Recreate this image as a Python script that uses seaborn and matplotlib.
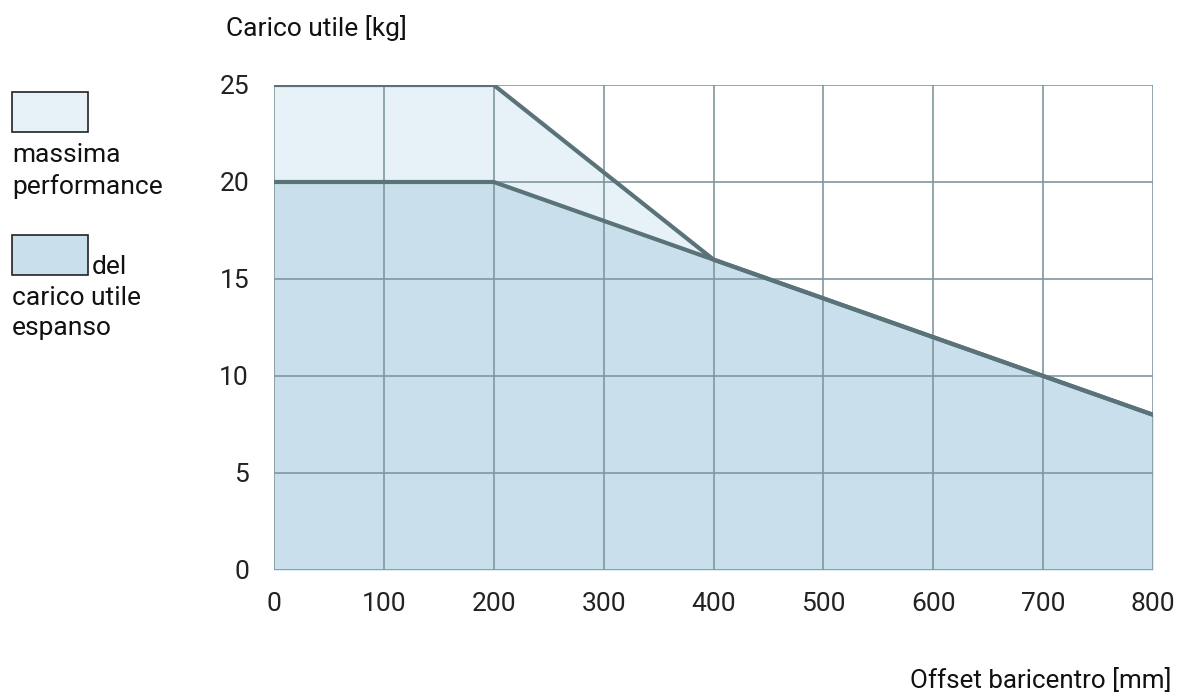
import pandas as pd
import matplotlib.pyplot as plt
import matplotlib.patches as mpatches
import seaborn as sns

offset_mm = [0, 200, 400, 700, 800]
carico_espanso = [20, 20, 16, 10, 8]
offset_max = [0, 200, 400, 800]
carico_max = [25, 25, 16, 8]

x_ticks = [0, 100, 200, 300, 400, 500, 600, 700, 800]
y_ticks = [0, 5, 10, 15, 20, 25]

light = '#E6F1F8'
mid = '#C9E0EC'
line_col = '#5A7379'
grid_col = '#7F979D'
fs = 19

sns.set_theme(style='white')
plt.rcParams['font.family'] = ['Roboto', 'DejaVu Sans']

fig = plt.figure(figsize=(11.78, 6.95), dpi=100)
ax = fig.add_axes([0.2326, 0.1799, 0.7462, 0.6978])

df_max = pd.DataFrame({'x': offset_max, 'y': carico_max})
df_esp = pd.DataFrame({'x': offset_mm, 'y': carico_espanso})

ax.fill_between(df_max['x'], df_max['y'], color=light, zorder=1, linewidth=0)
ax.fill_between(df_esp['x'], df_esp['y'], color=mid, zorder=1.5, linewidth=0)

for xv in x_ticks:
    ax.axvline(xv, color=grid_col, lw=1.2, zorder=2)
for yv in y_ticks:
    ax.axhline(yv, color=grid_col, lw=1.2, zorder=2)

sns.lineplot(data=df_max, x='x', y='y', ax=ax, color=line_col, lw=3, zorder=3)
sns.lineplot(data=df_esp, x='x', y='y', ax=ax, color=line_col, lw=3, zorder=3)

ax.set_xlim(0, 800)
ax.set_ylim(0, 25)
ax.set_xticks(x_ticks)
ax.set_yticks(y_ticks)
ax.tick_params(axis='x', labelsize=fs, colors='#222222', length=0, pad=16)
ax.tick_params(axis='y', labelsize=fs, colors='#222222', length=0, pad=18)
ax.set_xlabel('')
ax.set_ylabel('')
for s in ax.spines.values():
    s.set_visible(False)

fig.text(226 / 1178, 1 - 28 / 695, 'Carico utile [kg]', fontsize=fs, color='#111111', va='center')
fig.text(1172 / 1178, 1 - 681 / 695, 'Offset baricentro [mm]', fontsize=18.7, color='#111111',
         va='center', ha='right')

# legend
fig.patches.append(mpatches.Rectangle((12 / 1178, 1 - 132 / 695), 76 / 1178, 40 / 695,
                                      facecolor=light, edgecolor='#222222', lw=1.2,
                                      transform=fig.transFigure, figure=fig))
fig.patches.append(mpatches.Rectangle((12 / 1178, 1 - 275 / 695), 76 / 1178, 40 / 695,
                                      facecolor=mid, edgecolor='#222222', lw=1.2,
                                      transform=fig.transFigure, figure=fig))
fig.text(12 / 1178, 1 - 155 / 695, 'massima', fontsize=fs, color='#111111', va='center')
fig.text(12 / 1178, 1 - 187 / 695, 'performance', fontsize=fs, color='#111111', va='center')
fig.text(92 / 1178, 1 - 267 / 695, 'del', fontsize=fs, color='#111111', va='center')
fig.text(12 / 1178, 1 - 298 / 695, 'carico utile', fontsize=fs, color='#111111', va='center')
fig.text(12 / 1178, 1 - 328 / 695, 'espanso', fontsize=fs, color='#111111', va='center')

fig.savefig('out.png', dpi=100)
